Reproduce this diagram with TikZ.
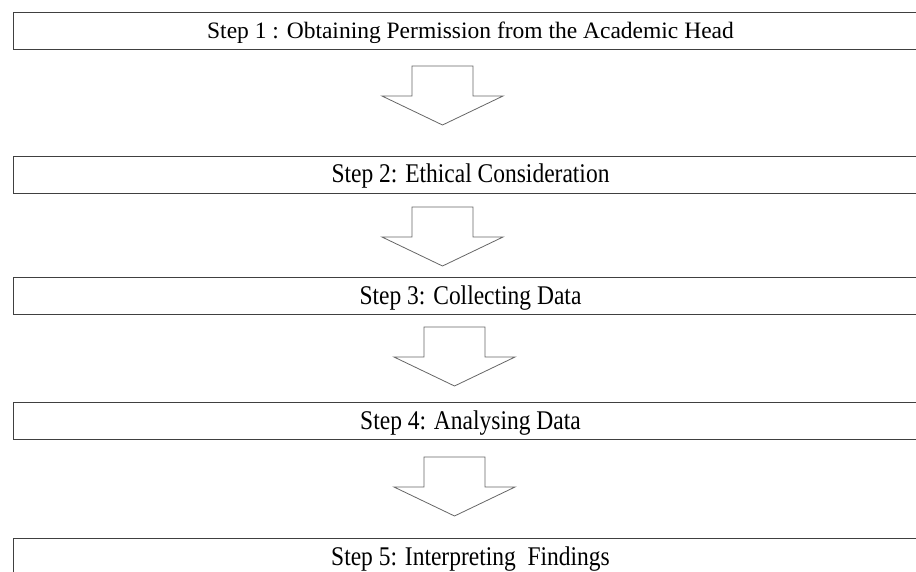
\documentclass[tikz,border=0pt]{standalone}
\usepackage{fontspec}
\setmainfont{Liberation Serif}
\newfontfamily\narrowserif{Liberation Serif}[FakeStretch=0.87]
\usepackage{tikz}
\usetikzlibrary{positioning}

\begin{document}
\begin{tikzpicture}[x=1pt, y=-1pt,
    stepbox/.style={draw=black!75, line width=0.9pt, fill=white, minimum width=915pt, minimum height=37pt, inner sep=0pt, text height=17pt, text depth=1pt, font=\fontsize{23.5}{26}\selectfont},
    narrowstep/.style={stepbox, font=\narrowserif\fontsize{27}{30}\selectfont},
    pics/bigarrow/.style={code={
      \draw[black!60, line width=0.8pt, line join=miter]
        (-30.5,0) -- (30.5,0) -- (30.5,30) -- (60.5,30) -- (0,59) -- (-60.5,30) -- (-30.5,30) -- cycle;
    }}
  ]
    \useasboundingbox (0,0) rectangle (916,571);

    \node[stepbox] (s1) at (470.5,30.5) {Step 1 : Obtaining Permission from the Academic Head};
    \node[narrowstep] (s2) at (470.5,174.5) {Step 2: Ethical Consideration};
    \node[narrowstep] (s3) at (470.5,296) {Step 3: Collecting Data};
    \node[narrowstep] (s4) at (470.5,421) {Step 4: Analysing Data};
    \node[narrowstep] (s5) at (470.5,557) {Step 5: Interpreting\ \ Findings};

    \pic at (442.5,66) {bigarrow};
    \pic at (442.5,207) {bigarrow};
    \pic at (454.5,327) {bigarrow};
    \pic at (454.5,457) {bigarrow};
  \end{tikzpicture}
\end{document}
